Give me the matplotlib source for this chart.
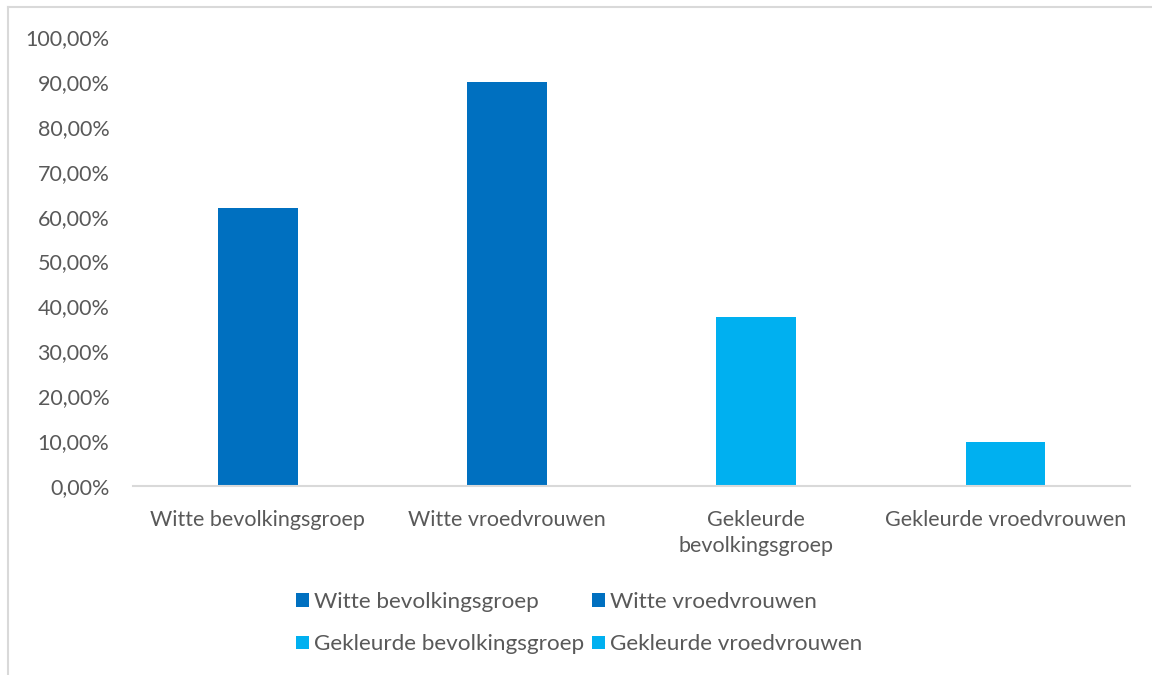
import matplotlib
matplotlib.use("Agg")
import matplotlib.pyplot as plt
from matplotlib.patches import Patch
from matplotlib.lines import Line2D

categories = ["Witte bevolkingsgroep", "Witte vroedvrouwen",
              "Gekleurde bevolkingsgroep", "Gekleurde vroedvrouwen"]
tick_labels = ["Witte bevolkingsgroep", "Witte vroedvrouwen",
               "Gekleurde\nbevolkingsgroep", "Gekleurde vroedvrouwen"]
values = [62.0, 90.0, 37.6, 9.8]
colors = ["#0070C0", "#0070C0", "#00B0F0", "#00B0F0"]
yticks = [0, 10, 20, 30, 40, 50, 60, 70, 80, 90, 100]

plt.rcParams['font.family'] = ['Lato', 'DejaVu Sans']
txt = "#595959"

fig = plt.figure(figsize=(11.52, 6.75), dpi=100)
ax = fig.add_axes([0.1155, 0.28, 0.8655, 0.665])

x = list(range(len(categories)))
ax.bar(x, values, width=0.32, color=colors, zorder=2)
ax.set_xlim(-0.5, 3.5)
ax.set_ylim(0, 100)
ax.set_yticks(yticks)
ax.set_yticklabels([f"{v:.2f}".replace(".", ",") + "%" for v in yticks],
                   fontsize=15.5, color=txt)
ax.set_xticks(x)
ax.set_xticklabels(tick_labels, fontsize=15.5, color=txt, linespacing=1.4)
ax.tick_params(axis='both', length=0)
ax.tick_params(axis='x', pad=17)
ax.tick_params(axis='y', pad=17)
for s in ["top", "right", "left"]:
    ax.spines[s].set_visible(False)
ax.spines["bottom"].set_color("#D9D9D9")
ax.spines["bottom"].set_linewidth(1.5)

# matplotlib fills legend columns first; reorder so rows read like the reference
order = [0, 2, 1, 3]
handles = [Patch(facecolor=colors[i], edgecolor='none') for i in order]
labels = [categories[i] for i in order]
leg = fig.legend(handles, labels, loc='center', ncol=2,
                 bbox_to_anchor=(0.503, 0.077), frameon=False,
                 fontsize=16.2, handlelength=0.55, handleheight=0.55,
                 handletextpad=0.25, columnspacing=0.35, labelspacing=1.0)
for t in leg.get_texts():
    t.set_color(txt)

# figure border (top and left visible)
bc = "#D9D9D9"
fig.add_artist(Line2D([8/1152, 1.0], [1-7/675, 1-7/675], color=bc, lw=1.5,
                      transform=fig.transFigure))
fig.add_artist(Line2D([8/1152, 8/1152], [0, 1-7/675], color=bc, lw=1.5,
                      transform=fig.transFigure))

fig.savefig("out.png", dpi=100)
